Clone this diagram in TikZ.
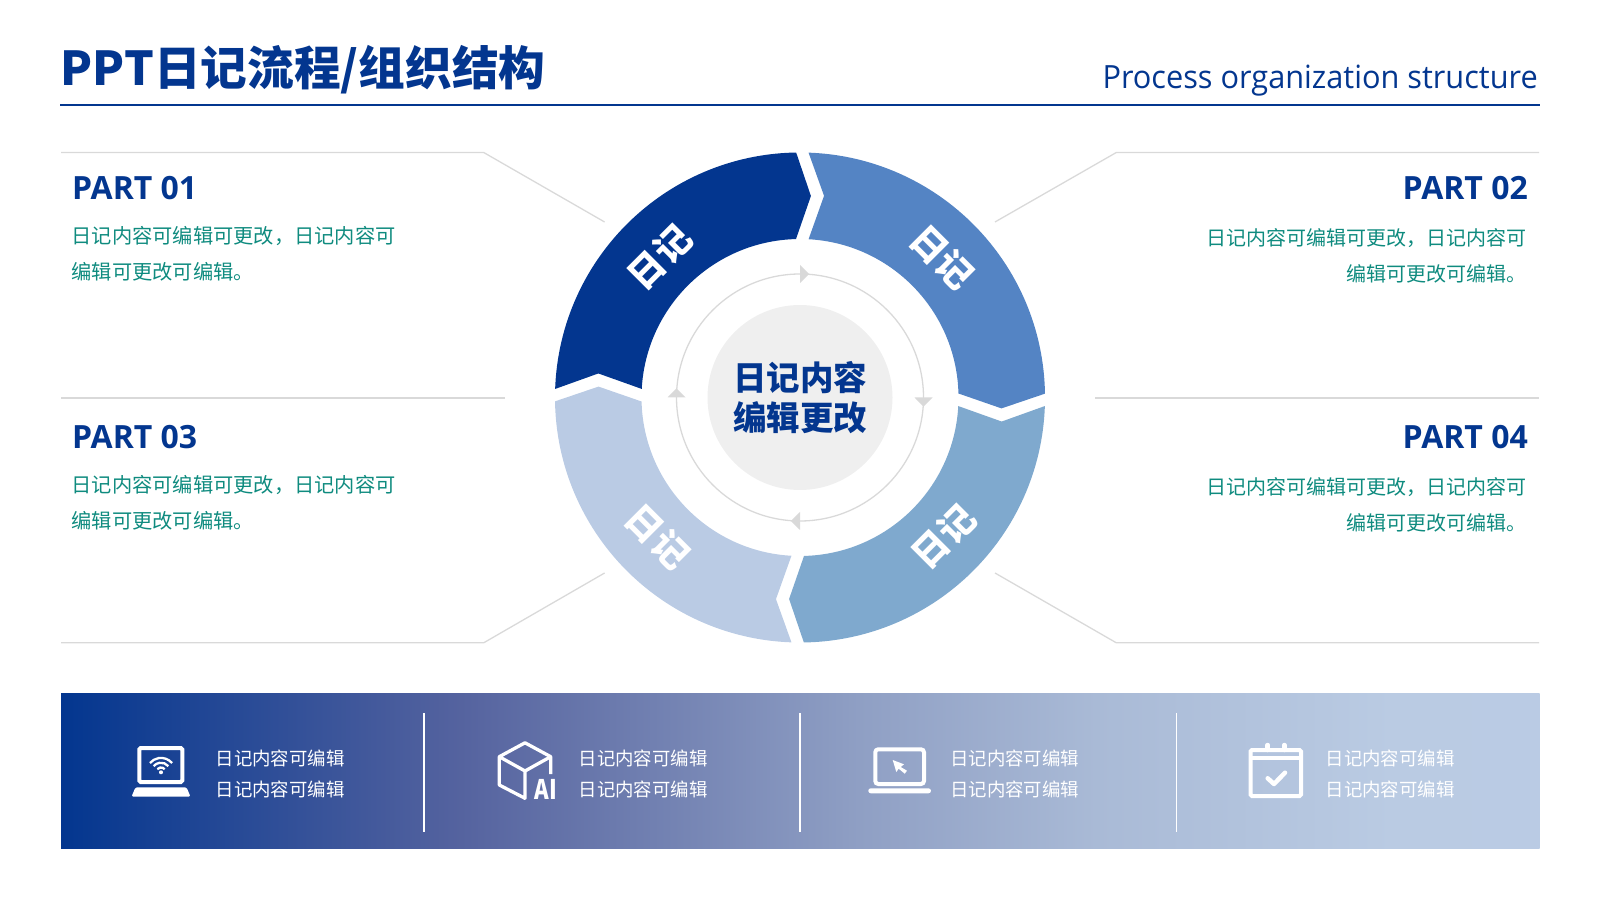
\documentclass[tikz,border=0pt]{standalone}
\usepackage{fontspec}
\setmainfont{Noto Sans CJK SC}
\newfontfamily\subfont[FakeStretch=0.96]{Open Sans}
\newfontfamily\partfont{Open Sans}
\usepackage{tikz}
\definecolor{navy}{HTML}{03368F}
\definecolor{midblue}{HTML}{5484C4}
\definecolor{steel}{HTML}{7FA9CE}
\definecolor{pale}{HTML}{BACBE4}
\definecolor{teal}{HTML}{0F8B7F}
\definecolor{hair}{HTML}{D9D9D9}
\definecolor{hub}{HTML}{EFEFEF}
\pgfdeclarehorizontalshading{bandfade}{100bp}{rgb(0bp)=(0.012,0.212,0.561); rgb(25bp)=(0.012,0.212,0.561); rgb(38.5bp)=(0.333,0.388,0.624); rgb(52bp)=(0.561,0.624,0.769); rgb(60bp)=(0.663,0.729,0.839); rgb(70bp)=(0.729,0.796,0.890); rgb(75bp)=(0.729,0.796,0.894); rgb(100bp)=(0.729,0.796,0.894)}
\tikzset{
  hairline/.style={draw=hair,line width=1.3},
  headtext/.style={text=navy,font=\partfont\fontsize{32}{36}\selectfont\bfseries,inner sep=0},
  bodytext/.style={text=teal,font=\fontsize{20}{36}\selectfont,inner sep=0},
  bandtext/.style={text=white,font=\fontsize{18.4}{30.3}\selectfont,inner sep=0,align=left,anchor=west},
  wheeltext/.style={text=white,font=\fontsize{36}{40}\selectfont\bfseries,inner sep=0},
  iconline/.style={draw=white,line width=4,rounded corners=1.5}
}
\begin{document}
\begin{tikzpicture}[x=1pt,y=1pt]
\useasboundingbox (0,0) rectangle (1600,900);

% title
\node[anchor=base west,inner sep=0,text=navy,font=\fontsize{46.7}{52}\selectfont\bfseries] (Title) at (60.5,814.5) {PPT日记流程/组织结构};
\node[anchor=base east,inner sep=0,text=navy,font=\subfont\fontsize{32}{36}\selectfont] (Sub) at (1538,811.7) {Process organization structure};
\draw[navy,line width=2.7] (60,795) -- (1540,795);

% frame lines
\draw[hairline] (61,747.5) -- (483.7,747.5) -- (604.6,678);
\draw[hairline] (1539,747.5) -- (1116.3,747.5) -- (995,678);
\draw[hairline] (61,257.2) -- (483.7,257.2) -- (604.6,327);
\draw[hairline] (1539,257.2) -- (1116.3,257.2) -- (995,327);
\draw[hairline] (61,502) -- (505,502);
\draw[hairline] (1095,502) -- (1539,502);

% parts
\foreach \i/\x/\y/\z [count=\n] in {01/72/700/646.6,03/72/451/397}
  {\node[headtext,anchor=base west] (P\i) at (\x,\y) {PART \i};
   \node[bodytext,font=\fontsize{20.25}{36}\selectfont,align=left,anchor=west] (B\i) at (71.5,\z) {日记内容可编辑可更改，日记内容可\\编辑可更改可编辑。};}
\foreach \i/\x/\y/\z [count=\n] in {02/1528/700/644.6,04/1528/451/395}
  {\node[headtext,anchor=base east] (P\i) at (\x,\y) {PART \i};
   \node[bodytext,align=right,anchor=east] (B\i) at (1527,\z) {日记内容可编辑可更改，日记内容可\\编辑可更改可编辑。};}

% wheel
\begin{scope}[shift={(800,502.5)}]
\foreach \c/\r in {navy/0,midblue/-90,steel/-180,pale/-270}
  \fill[\c,rotate=\r] (178:245) arc[start angle=178,end angle=90.9,radius=245] -- (86.9:201.8) -- (91.45:158.5) arc[start angle=91.45,end angle=176.9,radius=158.5] -- (173.2:203.1) -- cycle;
\draw[hairline] (0,0) circle (123.5);
\foreach \r in {0,-90,-180,-270}
  \fill[hair,rotate=\r] (0,132.5) -- (0,114.5) -- (9.2,123.5) -- cycle;
\node[circle,fill=hub,minimum size=185,inner sep=0] (Hub) at (0,0) {};
\node[inner sep=0,text=navy,align=center,font=\fontsize{33.5}{40}\selectfont\bfseries] (HubText) at (0,0) {日记内容\\编辑更改};
\node[wheeltext,rotate=45] (S1) at (-140.3,140.5) {日记};
\node[wheeltext,rotate=-45] (S2) at (142.3,140.5) {日记};
\node[wheeltext,rotate=45] (S3) at (143.7,-139.2) {日记};
\node[wheeltext,rotate=-45] (S4) at (-142,-139.2) {日记};
\end{scope}

% band
\node[shade,shading=bandfade,minimum width=1478.5,minimum height=155.5,inner sep=0] (Band) at (800.25,129.2) {};
\foreach \x in {424,800,1176.7}
  \draw[white,line width=1.3] (\x,186.7) -- (\x,68.3);
\foreach \x [count=\n] in {215.5,578.5,950,1325.5}
  \node[bandtext] (T\n) at (\x,126) {日记内容可编辑\\日记内容可编辑};

% icon wifi laptop
\draw[iconline] (139.3,152) rectangle (182.3,118);
\fill[white,rounded corners=1.5] (135.5,112.7) -- (186.5,112.7) -- (190.5,103.3) -- (131.5,103.3) -- cycle;
\fill[white] (161,127.7) circle (2);
\foreach \r in {4.8,9.6,14.4}
  \draw[white,line width=2.3] (161,127.7) ++(40:\r) arc[start angle=40,end angle=140,radius=\r];

% icon cube
\draw[white,line width=3.3,line join=round] (550.7,126) -- (550.7,143.3) -- (525,157.2) -- (499.3,143.3) -- (499.3,115) -- (525,101.7) -- (525,129) -- (499.3,143.3);
\draw[white,line width=3.3] (525,129) -- (550.7,143.3);
\node[inner sep=0,text=white,font=\fontsize{27}{30}\selectfont\bfseries,transform shape,xscale=.82] (AI) at (546,110.5) {AI};

% icon cursor laptop
\draw[iconline,rounded corners=3] (875.3,150.7) rectangle (924,116);
\fill[white,rounded corners=2.5] (868.3,111.7) rectangle (931,106.7);
\fill[white] (892.7,140) -- (904,135.7) -- (900.7,133) -- (907,129.3) -- (904.7,126.3) -- (898.7,131.3) -- (896.3,128) -- cycle;

% icon calendar
\draw[iconline] (1250.5,150) rectangle (1301,104);
\fill[white] (1250.5,144.5) rectangle (1301,140.5);
\foreach \x in {1267.7,1284.3}
  \draw[white,line width=4.5,line cap=round] (\x,150) -- (\x,155);
\draw[white,line width=4.5,line cap=round,line join=round] (1267.7,121.7) -- (1274,116) -- (1285,127.3);
\end{tikzpicture}
\end{document}
